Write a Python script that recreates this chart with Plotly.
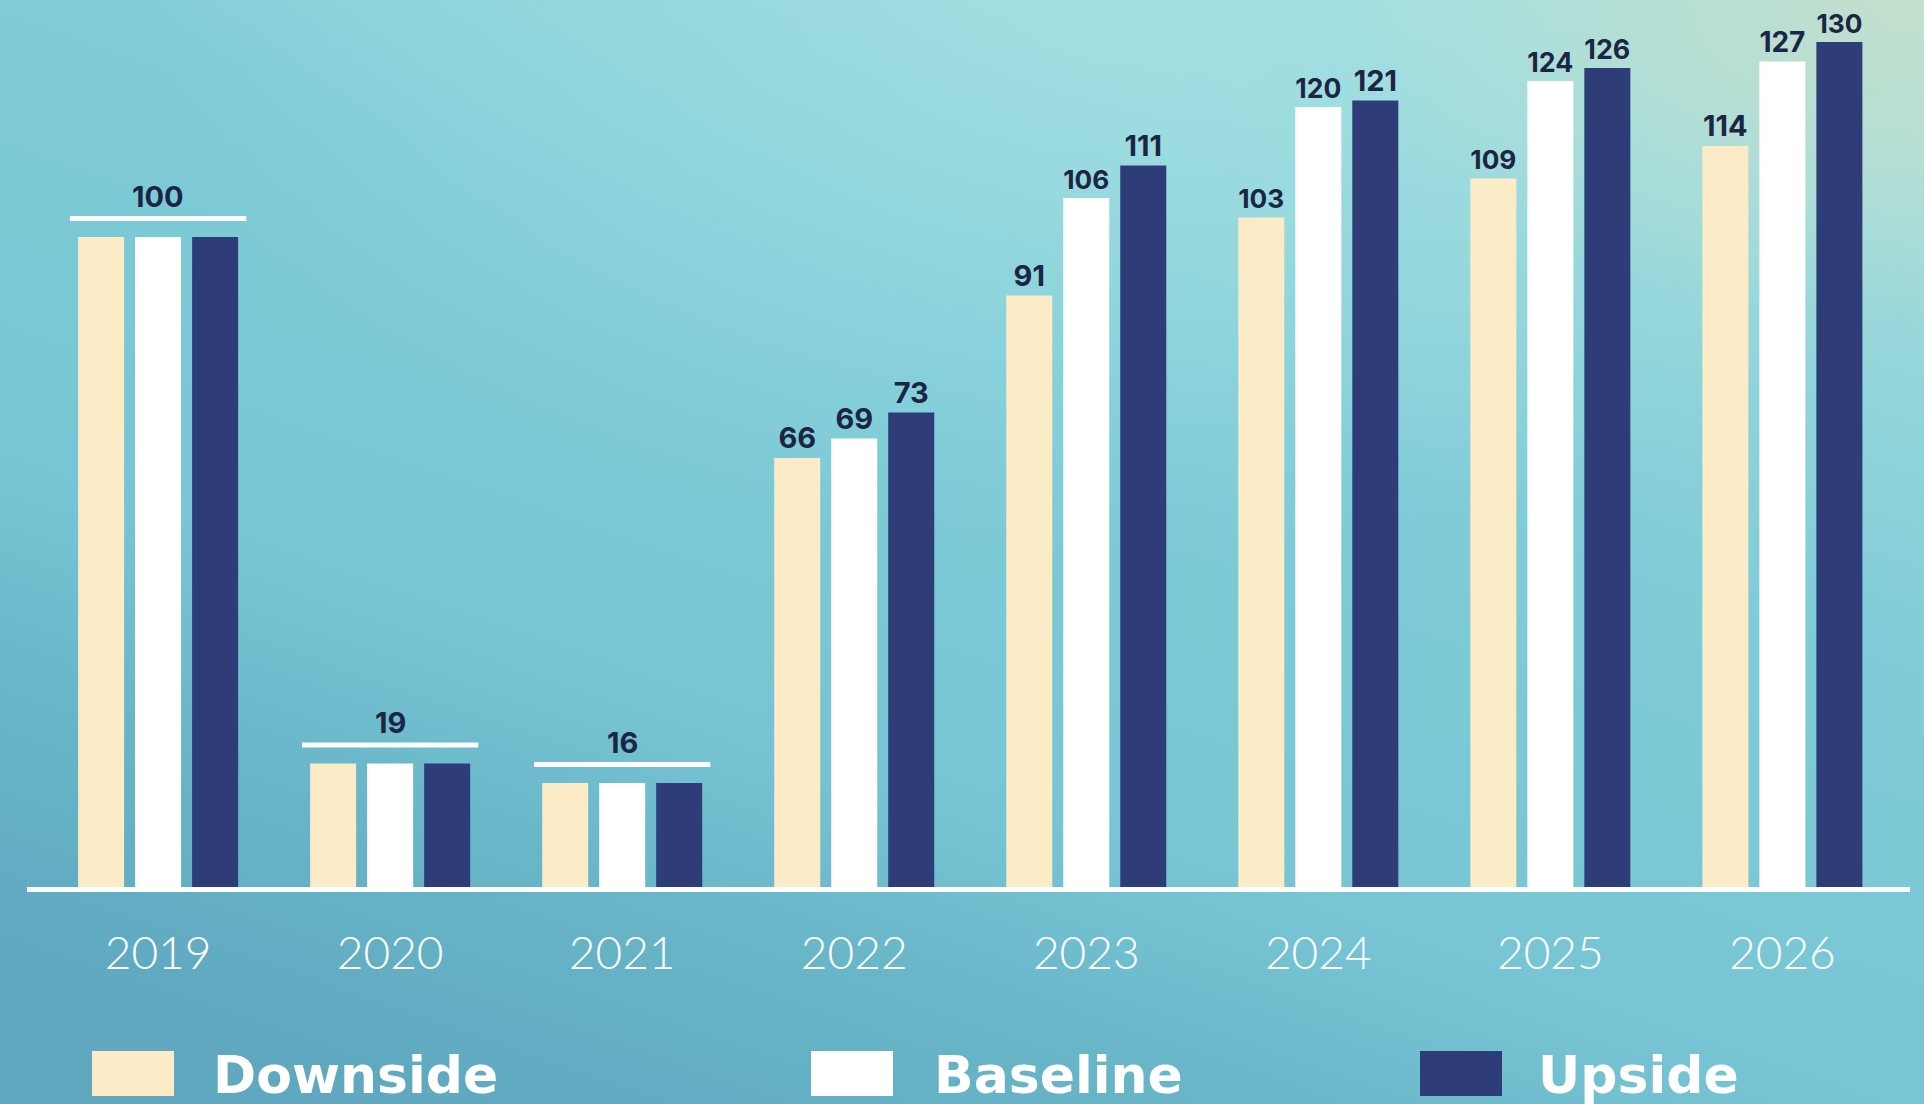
import base64
import plotly.graph_objects as go

# ---------------- data ----------------
years = ["2019", "2020", "2021", "2022", "2023", "2024", "2025", "2026"]
series_names = ["Downside", "Baseline", "Upside"]
downside = [100, 19, 16, 66, 91, 103, 109, 114]
baseline = [100, 19, 16, 69, 106, 120, 124, 127]
upside = [100, 19, 16, 73, 111, 121, 126, 130]

# ---------------- style ----------------
W, H = 1924, 1104
colors = ["#fcebc7", "#ffffff", "#2e3d78"]
label_color = "#1c2544"
px_per_unit = 6.5
plot_left, plot_right = 27, 1910
plot_bottom = 887  # pixel from top

svg = f"""<svg xmlns='http://www.w3.org/2000/svg' width='{W}' height='{H}' viewBox='0 0 {W} {H}' preserveAspectRatio='none'>
<defs>
<linearGradient id='g' x1='0.2' y1='1' x2='0.8' y2='0'>
<stop offset='0' stop-color='#5fa8c0'/>
<stop offset='0.2' stop-color='#68b6c8'/>
<stop offset='0.34' stop-color='#77c5d4'/>
<stop offset='0.65' stop-color='#80ccd8'/>
<stop offset='1' stop-color='#a6dedc'/>
</linearGradient>
<radialGradient id='r' cx='0.58' cy='0' r='0.5'>
<stop offset='0' stop-color='#a2e1e4' stop-opacity='0.75'/>
<stop offset='1' stop-color='#a2e1e4' stop-opacity='0'/>
</radialGradient>
<radialGradient id='c' cx='1' cy='0' r='0.3'>
<stop offset='0' stop-color='#c4dfcb' stop-opacity='0.95'/>
<stop offset='1' stop-color='#c4dfcb' stop-opacity='0'/>
</radialGradient>
</defs>
<rect width='{W}' height='{H}' fill='url(#g)'/>
<rect width='{W}' height='{H}' fill='url(#r)'/>
<rect width='{W}' height='{H}' fill='url(#c)'/>
</svg>"""
bg_uri = "data:image/svg+xml;base64," + base64.b64encode(svg.encode()).decode()

all_series = [downside, baseline, upside]
n = len(years)
uniform = [downside[i] == baseline[i] == upside[i] for i in range(n)]

label_font = dict(family="Inter", size=29, color=label_color, weight=700)

fig = go.Figure()
for name, vals, col in zip(series_names, all_series, colors):
    texts = ["" if uniform[i] else str(v) for i, v in enumerate(vals)]
    fig.add_trace(go.Bar(
        x=years, y=vals, name=name,
        marker=dict(color=col, line=dict(width=0)),
        text=texts, textposition="outside",
        textfont=label_font,
        cliponaxis=False, showlegend=False,
    ))

shapes = []
annotations = []
# bracket line + single label for groups with equal values
for i in range(n):
    if uniform[i]:
        v = downside[i]
        shapes.append(dict(
            type="line", xref="x", yref="y", ysizemode="pixel", yanchor=v,
            x0=i - 0.38, x1=i + 0.38, y0=18.5, y1=18.5,
            line=dict(color="white", width=5), layer="above",
        ))
        annotations.append(dict(
            x=i, y=v, xref="x", yref="y", text=str(v), showarrow=False,
            yanchor="middle", yshift=41,
            font=label_font,
        ))

# custom legend
legend_swatch_x = [92, 811, 1420]
legend_text_x = [211, 932, 1536]
for name, col, sx, tx in zip(series_names, colors, legend_swatch_x, legend_text_x):
    shapes.append(dict(
        type="rect", xref="paper", yref="paper",
        x0=sx / W, x1=(sx + 82) / W, y0=1 - 1096 / H, y1=1 - 1051 / H,
        fillcolor=col, line=dict(width=0),
    ))
    annotations.append(dict(
        x=tx / W, y=1 - 1075 / H, xref="paper", yref="paper", text=name,
        showarrow=False, xanchor="left", yanchor="middle",
        font=dict(family="DejaVu Sans", size=52, color="white", weight=700),
    ))

fig.update_layout(
    width=W, height=H, autosize=False,
    margin=dict(l=0, r=0, t=0, b=0),
    paper_bgcolor="#78c4d3", plot_bgcolor="rgba(0,0,0,0)",
    barmode="group", bargap=0.263, bargroupgap=0.193,
    images=[dict(source=bg_uri, xref="paper", yref="paper", x=0, y=1,
                 sizex=1, sizey=1, sizing="stretch", layer="below",
                 xanchor="left", yanchor="top")],
    xaxis=dict(
        domain=[plot_left / W, plot_right / W],
        range=[-0.565, 7.55], showgrid=False, zeroline=False,
        showline=True, linecolor="white", linewidth=5, ticks="",
        ticklabelstandoff=22,
        tickfont=dict(family="Lato", size=46, color="white", weight=300),
    ),
    yaxis=dict(
        domain=[(H - plot_bottom) / H, 1],
        range=[0, plot_bottom / px_per_unit], visible=False,
    ),
    shapes=shapes, annotations=annotations,
)

fig.write_html("out.html")
